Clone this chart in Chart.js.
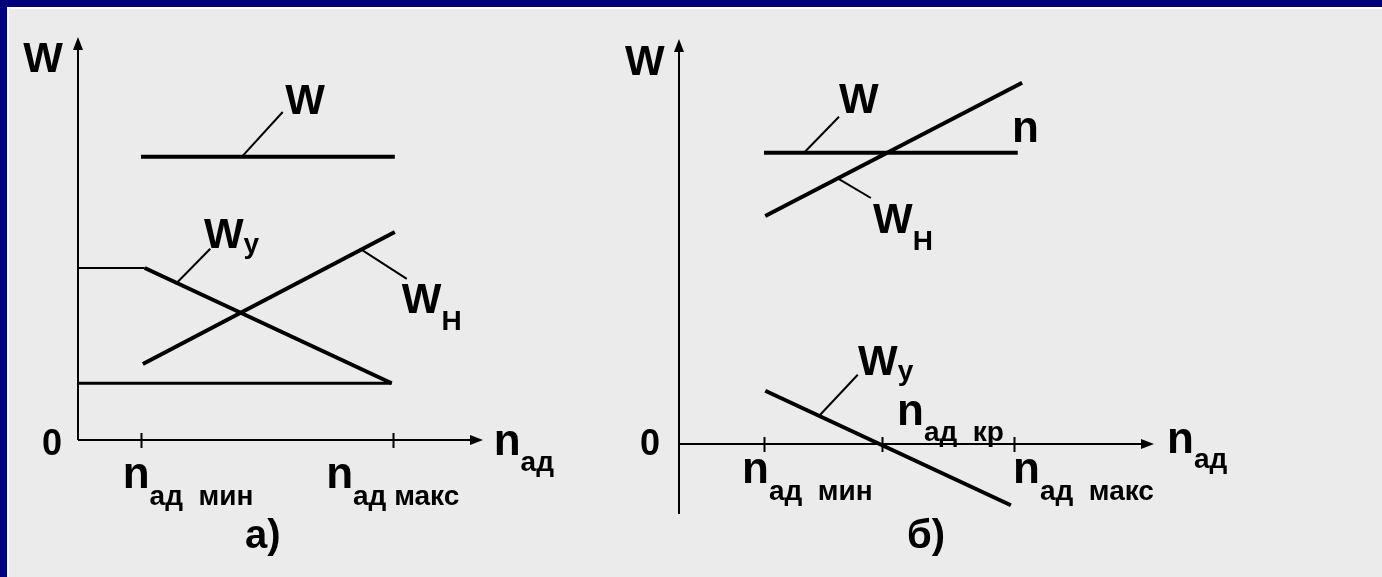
<!DOCTYPE html>
<html>
<head>
<meta charset="utf-8">
<script src="https://cdn.jsdelivr.net/npm/chart.js@4.4.0/dist/chart.umd.min.js"></script>
<style>
  html, body { margin: 0; padding: 0; }
  body { width: 1382px; height: 577px; background: #00007a; overflow: hidden; position: relative; }
  #frame { position: absolute; left: 7px; top: 7px; right: 0; bottom: 0; background: #ebebeb;
           border-left: 2px solid #fff; border-top: 2px solid #fff; }
  canvas { position: absolute; top: 0; }
  #chartA { left: 0; }
  #chartB { left: 620px; }
</style>
</head>
<body>
<div id="frame"></div>
<canvas id="chartA" width="620" height="577"></canvas>
<canvas id="chartB" width="762" height="577"></canvas>
<script>
// ---- panel а) : values (n along x, W along y)
const nTicksA = [1, 5];                       // n ад мин, n ад макс
const lineW_A = [[1.0, 7.08], [5.03, 7.08]];
const lineWyFlatA = [[0, 4.3], [1.06, 4.3]];
const lineWyA = [[1.06, 4.3], [4.98, 1.42]];
const lineBaseA = [[0, 1.42], [4.98, 1.42]];
const lineWnA = [[1.03, 1.9], [5.03, 5.2]];
const leadWA = [[2.6, 7.08], [3.25, 8.2]];
const leadWyA = [[1.57, 3.93], [2.1, 4.78]];
const leadWnA = [[4.5, 4.76], [5.22, 4.03]];

// ---- panel б)
const nTicksB = [1, 2.89, 5];                 // n ад мин, n ад кр, n ад макс
const lineW_B = [[1.0, 7.28], [5.06, 7.28]];
const lineWnB = [[1.02, 5.7], [5.13, 9.03]];
const lineWyB = [[1.02, 1.33], [4.95, -1.53]];
const leadWB = [[1.64, 7.28], [2.2, 8.18]];
const leadWnB = [[2.18, 6.64], [2.71, 6.15]];
const leadWyB = [[1.88, 0.7], [2.5, 1.73]];

const FONT = '"Liberation Sans", Arial, sans-serif';

function seg(points, width) {
  return {
    data: points.map(p => ({ x: p[0], y: p[1] })),
    showLine: true,
    borderColor: '#000',
    borderWidth: width,
    borderCapStyle: 'butt',
    pointRadius: 0,
    clip: false
  };
}

function drawLabel(ctx, px, py, l) {
  ctx.font = 'bold ' + (l.size || 42) + 'px ' + FONT;
  ctx.fillText(l.t, px, py);
  if (l.s) {
    const w = ctx.measureText(l.t).width;
    ctx.font = 'bold ' + (l.subSize || 28) + 'px ' + FONT;
    ctx.fillText(l.s, px + w + (l.gap || 0), py + l.drop);
  }
}

const diagramPlugin = {
  id: 'diagram',
  afterDatasetsDraw(chart, args, opts) {
    const { ctx } = chart;
    const x = chart.scales.x, y = chart.scales.y;
    const ax = x.getPixelForValue(x.min);
    const ay = y.getPixelForValue(0);
    const xEnd = x.getPixelForValue(x.max);
    const yTop = y.getPixelForValue(y.max);
    const yBot = y.getPixelForValue(y.min);
    const head = 13, half = 5;

    ctx.save();
    ctx.strokeStyle = '#000';
    ctx.fillStyle = '#000';
    ctx.lineWidth = 2;

    // y axis
    ctx.beginPath();
    ctx.moveTo(ax, yBot);
    ctx.lineTo(ax, yTop + head);
    ctx.stroke();
    ctx.beginPath();
    ctx.moveTo(ax, yTop);
    ctx.lineTo(ax - half, yTop + head);
    ctx.lineTo(ax + half, yTop + head);
    ctx.closePath();
    ctx.fill();

    // x axis
    ctx.beginPath();
    ctx.moveTo(ax, ay);
    ctx.lineTo(xEnd - head, ay);
    ctx.stroke();
    ctx.beginPath();
    ctx.moveTo(xEnd, ay);
    ctx.lineTo(xEnd - head, ay - half);
    ctx.lineTo(xEnd - head, ay + half);
    ctx.closePath();
    ctx.fill();

    // tick marks crossing the axis
    opts.ticks.forEach(v => {
      const tx = Math.round(x.getPixelForValue(v)) + 0.5;
      ctx.beginPath();
      ctx.moveTo(tx, ay - 7);
      ctx.lineTo(tx, ay + 8);
      ctx.stroke();
    });

    ctx.textBaseline = 'alphabetic';
    ctx.textAlign = 'left';
    opts.labels.forEach(l => {
      drawLabel(ctx, x.getPixelForValue(l.x), y.getPixelForValue(l.y), l);
    });
    ctx.restore();
  }
};

function makeChart(id, datasets, xr, yr, padding, ticks, labels) {
  return new Chart(document.getElementById(id), {
    type: 'scatter',
    data: { datasets },
    options: {
      responsive: false,
      animation: false,
      devicePixelRatio: 1,
      layout: { padding },
      scales: {
        x: { type: 'linear', min: xr[0], max: xr[1], display: false },
        y: { type: 'linear', min: yr[0], max: yr[1], display: false }
      },
      plugins: {
        legend: { display: false },
        tooltip: { enabled: false },
        diagram: { ticks, labels }
      }
    },
    plugins: [diagramPlugin]
  });
}

makeChart('chartA', [
  seg(lineW_A, 4), seg(lineWyFlatA, 2), seg(lineWyA, 4), seg(lineBaseA, 3), seg(lineWnA, 4),
  seg(leadWA, 2), seg(leadWyA, 2), seg(leadWnA, 2)
], [0, 6.43], [0, 10.075], { left: 78, right: 137, top: 37, bottom: 137 }, nTicksA, [
  { t: 'W', x: -0.87, y: 9.2 },
  { t: 'W', x: 3.29, y: 8.15 },
  { t: 'W', s: 'у', x: 2.0, y: 4.8, drop: 5 },
  { t: 'W', s: 'Н', x: 5.14, y: 3.18, drop: 17 },
  { t: '0', x: -0.57, y: -0.375, size: 36 },
  { t: 'n', s: 'ад  мин', x: 0.71, y: -1.2, size: 44, drop: 17 },
  { t: 'n', s: 'ад макс', x: 3.94, y: -1.2, size: 44, drop: 17 },
  { t: 'n', s: 'ад', x: 6.6, y: -0.375, size: 44, drop: 16 },
  { t: 'а)', x: 2.65, y: -2.7, size: 40 }
]);

makeChart('chartB', [
  seg(lineW_B, 4), seg(lineWnB, 4), seg(lineWyB, 4),
  seg(leadWB, 2), seg(leadWnB, 2), seg(leadWyB, 2)
], [-0.36, 7.24], [-1.75, 10.125], { left: 59, right: 228, top: 39, bottom: 63 }, nTicksB, [
  { t: 'W', x: -1.224, y: 9.225 },
  { t: 'W', x: 2.2, y: 8.275 },
  { t: 'n', x: 4.968, y: 7.55, size: 44 },
  { t: 'W', s: 'Н', x: 2.744, y: 5.275, drop: 17 },
  { t: 'W', s: 'у', x: 2.504, y: 1.725, drop: 5 },
  { t: 'n', s: 'ад  кр', x: 3.128, y: 0.475, size: 44, drop: 16 },
  { t: '0', x: -0.984, y: -0.275, size: 36 },
  { t: 'n', s: 'ад  мин', x: 0.648, y: -0.975, size: 44, drop: 17 },
  { t: 'n', s: 'ад  макс', x: 4.984, y: -0.975, size: 44, drop: 17 },
  { t: 'n', s: 'ад', x: 7.448, y: -0.225, size: 44, drop: 15 },
  { t: 'б)', x: 3.288, y: -2.6, size: 40 }
]);
</script>
</body>
</html>
